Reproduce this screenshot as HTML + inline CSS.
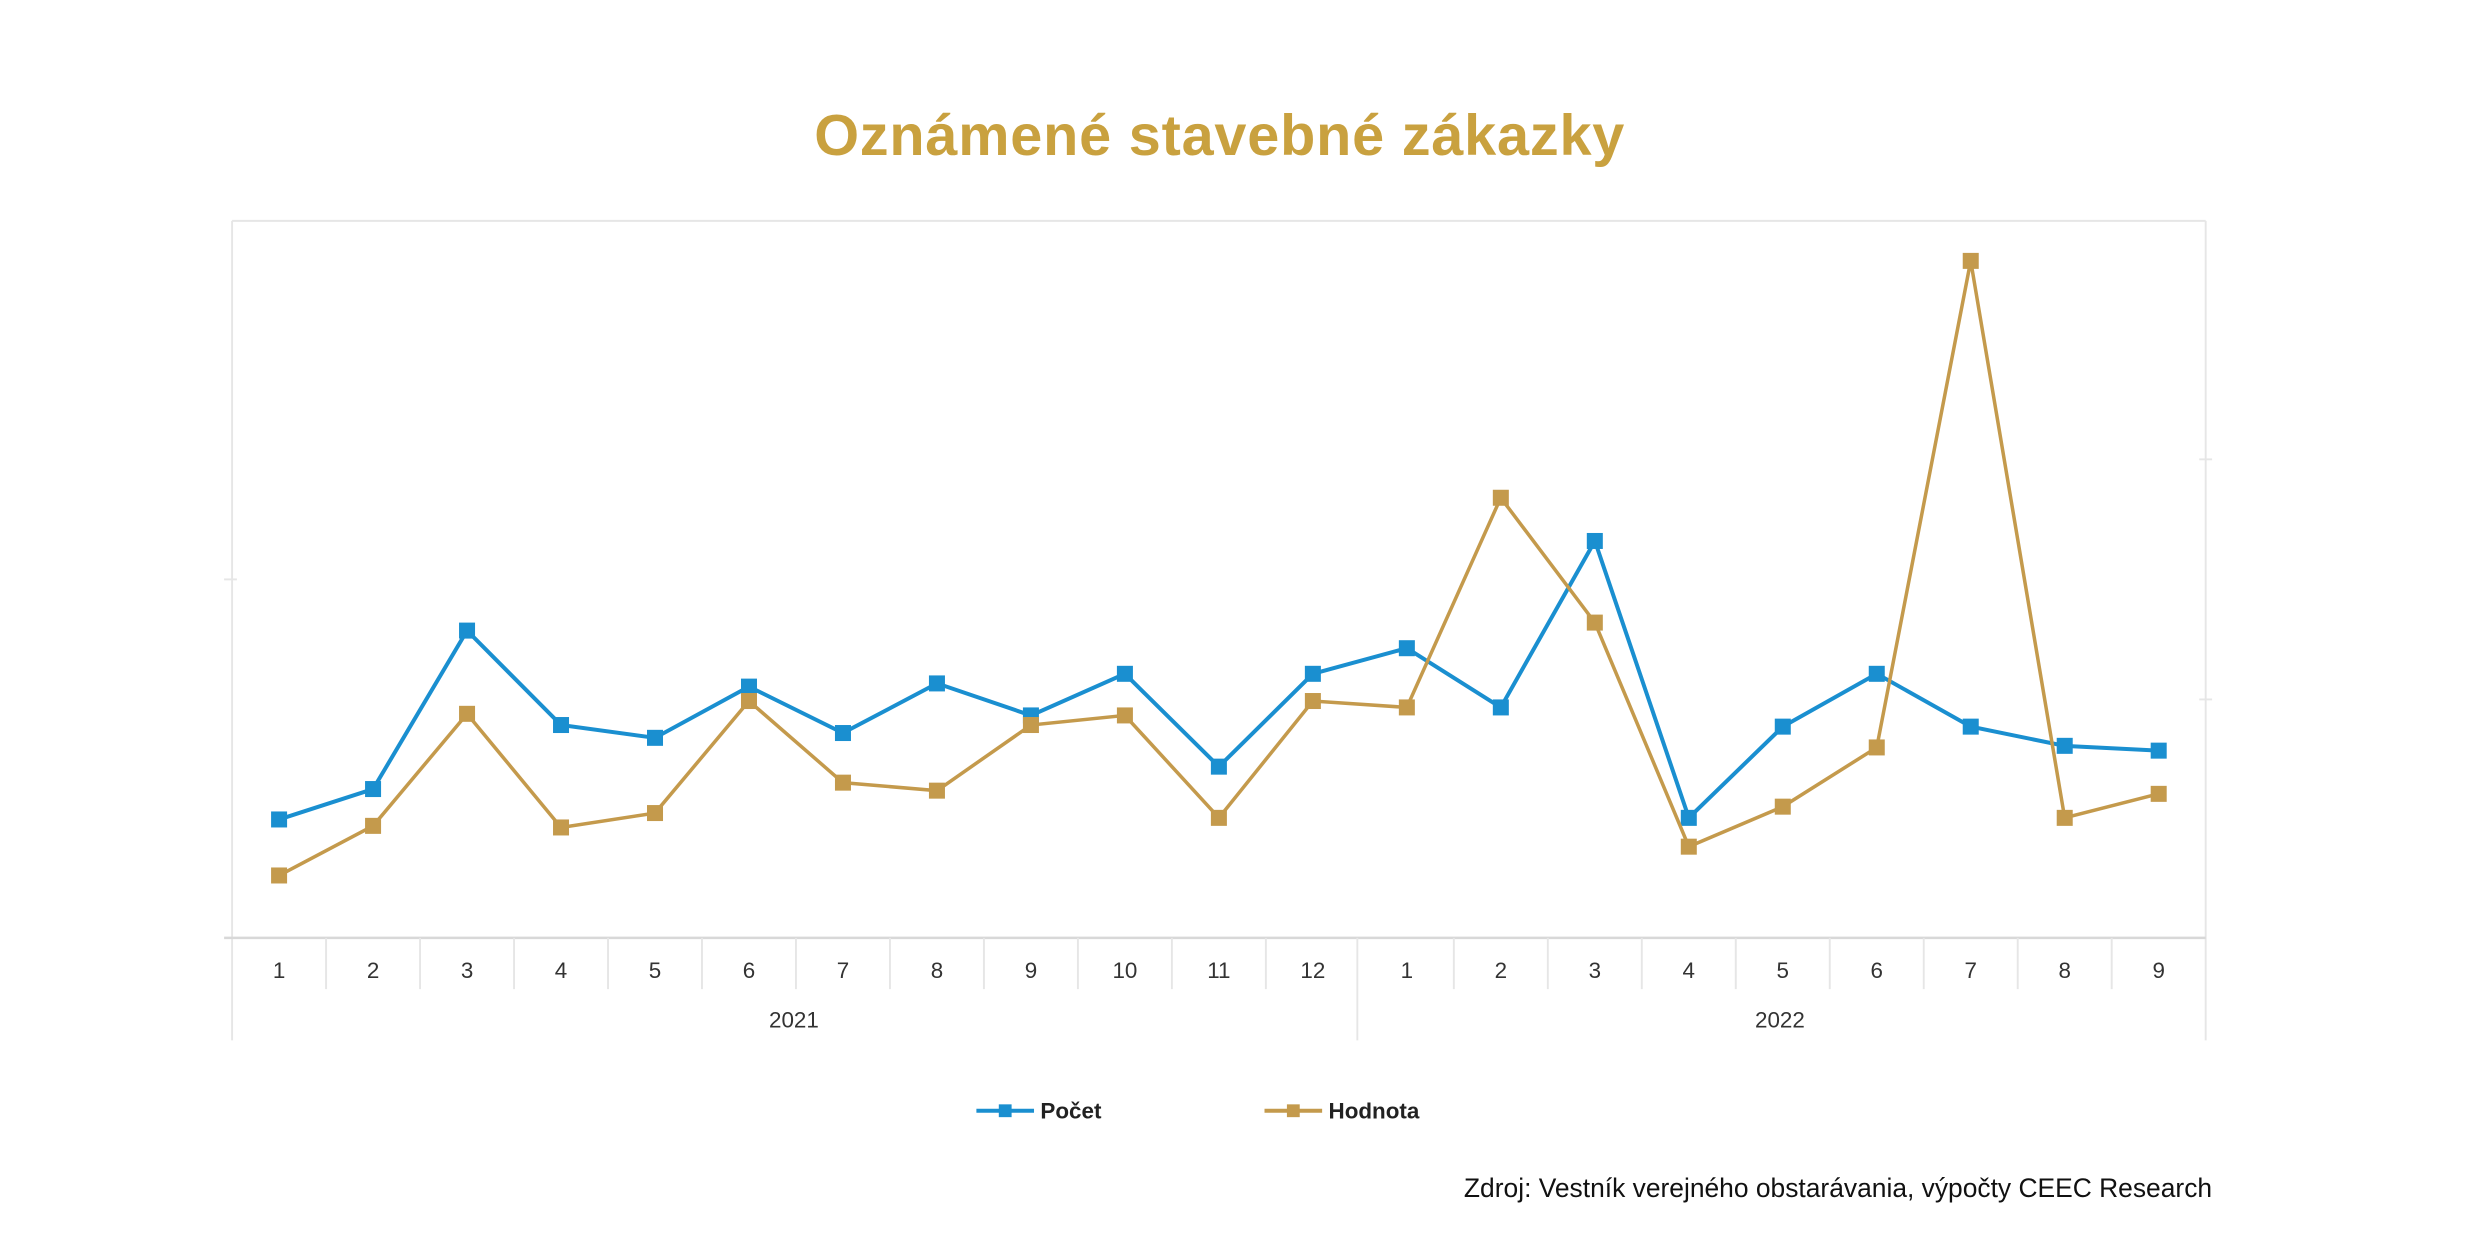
<!DOCTYPE html>
<html><head><meta charset="utf-8"><style>
html,body{margin:0;padding:0;background:#fff;}
svg{display:block;}
</style></head><body>
<svg width="2481" height="1258" viewBox="0 0 1550 786" preserveAspectRatio="none" xmlns="http://www.w3.org/2000/svg" font-family="Liberation Sans, sans-serif">
<rect width="1550" height="786" fill="#fff"/>
<text x="762" y="97" text-anchor="middle" font-size="36" letter-spacing="0.5" font-weight="bold" fill="#c9a13f">Oznámené stavebné zákazky</text>
<g stroke="#e6e6e6" stroke-width="1.2" fill="none">
<line x1="145" y1="138" x2="1378" y2="138"/>
<line x1="145" y1="138" x2="145" y2="650"/>
<line x1="1378" y1="138" x2="1378" y2="650"/>
<line x1="140" y1="586" x2="1378" y2="586" stroke="#d8d8d8" stroke-width="1.6"/>
<line x1="848" y1="586" x2="848" y2="650"/>
<line x1="140" y1="362" x2="148" y2="362"/>
<line x1="1374" y1="287" x2="1382" y2="287"/>
<line x1="1374" y1="437" x2="1382" y2="437"/>
</g>
<g id="seps" stroke="#e6e6e6" stroke-width="1.2"></g>
<g id="mlab" font-size="14" fill="#333" text-anchor="middle"></g>
<text x="496" y="642" font-size="14" fill="#333" text-anchor="middle">2021</text>
<text x="1112" y="642" font-size="14" fill="#333" text-anchor="middle">2022</text>
<g id="series"></g>
<line x1="610" y1="694" x2="646" y2="694" stroke="#1a8fd0" stroke-width="2.5"/>
<rect x="624" y="690" width="8" height="8" fill="#1a8fd0"/>
<text x="650" y="699" font-size="14" font-weight="bold" fill="#222">Počet</text>
<line x1="790" y1="694" x2="826" y2="694" stroke="#c49a4c" stroke-width="2.5"/>
<rect x="804" y="690" width="8" height="8" fill="#c49a4c"/>
<text x="830" y="699" font-size="14" font-weight="bold" fill="#222">Hodnota</text>
<text x="1382" y="748" font-size="16.5" fill="#111" text-anchor="end">Zdroj: Vestník verejného obstarávania, výpočty CEEC Research</text>
</svg>
<script>
var ns="http://www.w3.org/2000/svg";
var w=(1378-145)/21;
var labs=[1,2,3,4,5,6,7,8,9,10,11,12,1,2,3,4,5,6,7,8,9];
var seps=document.getElementById('seps'),ml=document.getElementById('mlab');
for(var i=0;i<21;i++){
 if(i>0&&i!=12){var l=document.createElementNS(ns,'line');l.setAttribute('x1',145+i*w);l.setAttribute('x2',145+i*w);l.setAttribute('y1',586);l.setAttribute('y2',618);seps.appendChild(l);}
 var t=document.createElementNS(ns,'text');t.setAttribute('x',145+w*(i+0.5));t.setAttribute('y',611);t.textContent=labs[i];ml.appendChild(t);
}
var P=[512,493,394,453,461,429,458,427,447,421,479,421,405,442,338,511,454,421,454,466,469];
var H=[547,516,446,517,508,438,489,494,453,447,511,438,442,311,389,529,504,467,163,511,496];
var g=document.getElementById('series');
function draw(d,c,sw){
 var pts=d.map(function(y,i){return (145+w*(i+0.5)).toFixed(1)+','+y;}).join(' ');
 var pl=document.createElementNS(ns,'polyline');pl.setAttribute('points',pts);pl.setAttribute('fill','none');pl.setAttribute('stroke',c);pl.setAttribute('stroke-width',sw);g.appendChild(pl);
 d.forEach(function(y,i){var r=document.createElementNS(ns,'rect');r.setAttribute('x',145+w*(i+0.5)-5);r.setAttribute('y',y-5);r.setAttribute('width',10);r.setAttribute('height',10);r.setAttribute('fill',c);g.appendChild(r);});
}
draw(P,'#1a8fd0',2.5);
draw(H,'#c49a4c',2.2);
</script>
</body></html>
